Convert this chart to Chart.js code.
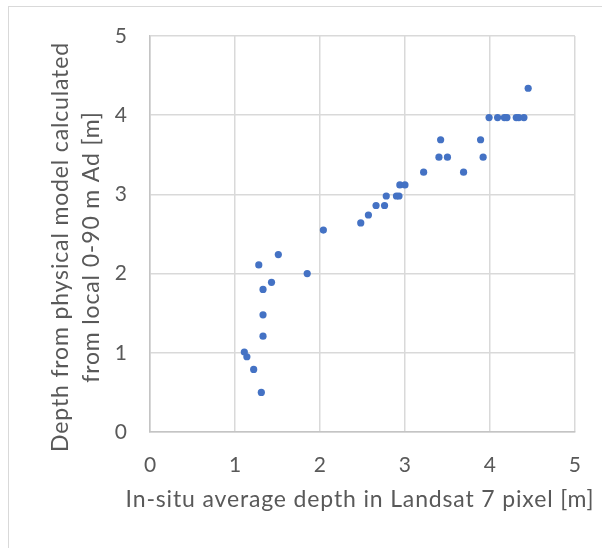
<!DOCTYPE html>
<html>
<head>
<meta charset="utf-8">
<script src="https://cdn.jsdelivr.net/npm/chart.js@4.4.1/dist/chart.umd.min.js"></script>
<style>
    html, body { margin: 0; padding: 0; background: #fff; }
    #frame {
        position: absolute; left: 8px; top: 6px; width: 620px; height: 580px;
        border: 1.5px solid #d9d9d9;
    }
    #wrap { position: absolute; left: 0; top: 0; width: 602px; height: 548px; }
</style>
</head>
<body>
<div id="frame"></div>
<div id="wrap"><canvas id="depthChart" width="602" height="548"></canvas></div>
<script>
// In-situ depth (x) vs depth from the physical model (y), metres
const insituDepth = [
    1.31, 1.22, 1.14, 1.11, 1.33, 1.33, 1.33, 1.43, 1.85, 1.28,
    1.51, 2.04, 2.48, 2.57, 2.66, 2.76, 2.78, 2.90, 2.93, 2.94,
    3.00, 3.22, 3.69, 3.40, 3.50, 3.92, 3.42, 3.89, 3.99, 4.09,
    4.17, 4.20, 4.31, 4.34, 4.40, 4.45
];
const modelDepth = [
    0.50, 0.79, 0.95, 1.01, 1.21, 1.48, 1.80, 1.89, 2.00, 2.11,
    2.24, 2.55, 2.64, 2.74, 2.86, 2.86, 2.98, 2.98, 2.98, 3.12,
    3.12, 3.28, 3.28, 3.47, 3.47, 3.47, 3.69, 3.69, 3.97, 3.97,
    3.97, 3.97, 3.97, 3.97, 3.97, 4.34
];
const xTitle = 'In-situ average depth in Landsat 7 pixel [m]';
const yTitleLines = ['Depth from physical model calculated', 'from local 0-90 m Ad [m]'];

const TEXT = '#595959';
const GRID = '#d9d9d9';
const FONT = 'Lato, "Open Sans", sans-serif';

// axis titles drawn by hand: spaced out a little, y title sits below the plot centre
const axisTitlePlugin = {
    id: 'axisTitles',
    afterDraw(chart) {
        const ctx = chart.ctx;
        ctx.save();
        ctx.fillStyle = TEXT;
        ctx.font = '23px ' + FONT;
        ctx.textAlign = 'center';
        ctx.textBaseline = 'middle';
        ctx.letterSpacing = '0.85px';

        ctx.fillText(xTitle, 360, 500);

        ctx.translate(61, 247);
        ctx.rotate(-Math.PI / 2);
        yTitleLines.forEach((line, i) => ctx.fillText(line, 0, i * 31));
        ctx.restore();
    }
};

new Chart(document.getElementById('depthChart'), {
    type: 'scatter',
    data: {
        datasets: [{
            data: insituDepth.map((x, i) => ({ x: x, y: modelDepth[i] })),
            backgroundColor: '#4472c4',
            borderWidth: 0,
            pointRadius: 3.6,
            pointHoverRadius: 3.6
        }]
    },
    options: {
        responsive: false,
        animation: false,
        layout: { padding: { left: 9, top: 36, right: 24, bottom: 0 } },
        plugins: { legend: { display: false }, tooltip: { enabled: false } },
        scales: {
            x: {
                type: 'linear', min: 0, max: 5,
                ticks: { stepSize: 1, color: TEXT, font: { family: FONT, size: 21 }, padding: 21 },
                grid: { color: GRID, lineWidth: 1.5, drawTicks: false },
                border: { color: '#c4c4c4', width: 1.5 },
                afterFit(scale) { scale.height = 116; }
            },
            y: {
                type: 'linear', min: 0, max: 5,
                ticks: { stepSize: 1, color: TEXT, font: { family: FONT, size: 21 }, padding: 23 },
                grid: { color: GRID, lineWidth: 1.5, drawTicks: false },
                border: { color: '#c4c4c4', width: 1.5 },
                afterFit(scale) { scale.width = 141; }
            }
        }
    },
    plugins: [axisTitlePlugin]
});
</script>
</body>
</html>
